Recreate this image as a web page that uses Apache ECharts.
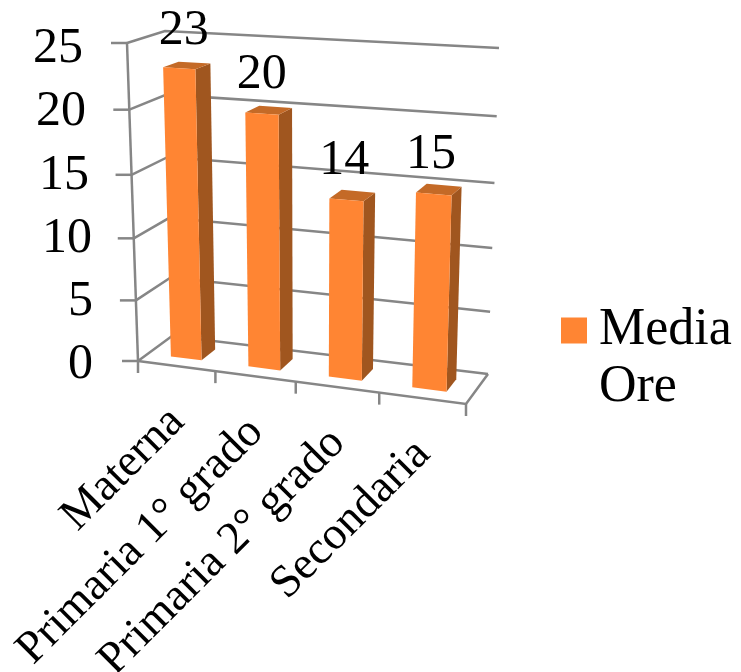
<!DOCTYPE html>
<html><head><meta charset="utf-8">
<style>html,body{margin:0;padding:0;background:#fff}#c{width:741px;height:672px}</style>
<script src="https://cdn.jsdelivr.net/npm/echarts@6/dist/echarts.min.js"></script>
</head><body><div id="c"></div>
<script>
const categories = ['Materna', 'Primaria 1° grado', 'Primaria 2° grado', 'Secondaria'];
const mediaOre = [23, 20, 14, 15];
const yTicks = [0, 5, 10, 15, 20, 25];
const seriesName = 'Media Ore';

// Scene layout: screen corners of the two planes of the 3D box [u,v] = (0,0),(1,0),(1,1),(0,1)
const FRONT = [[138,361],[466,404],[476,62],[127,43]];
const BACK  = [[172,336],[488,374],[499,48],[165,31]];
const GRID = {left:95, top:49, width:400, height:316};
const BAR_HALF = 0.2, D0 = 0.3, D1 = 0.72;
const FONT = 'Liberation Serif';
const LINE = '#868686';
const C_FRONT = '#FF8533', C_SIDE = '#A0561F', C_TOP = '#C46A27';
const VALUE_LABEL_SHIFT = [-3,-7,-8,-8];

function homography(q){
  const [x0,y0]=q[0],[x1,y1]=q[1],[x2,y2]=q[2],[x3,y3]=q[3];
  const dx1=x1-x2,dx2=x3-x2,sx=x0-x1+x2-x3,dy1=y1-y2,dy2=y3-y2,sy=y0-y1+y2-y3;
  const den=dx1*dy2-dx2*dy1;
  const g=(sx*dy2-dx2*sy)/den,h=(dx1*sy-sx*dy1)/den;
  const a=x1-x0+g*x1,b=x3-x0+h*x3,d=y1-y0+g*y1,e=y3-y0+h*y3;
  return (u,v)=>{const w=g*u+h*v+1;return [(a*u+b*v+x0)/w,(d*u+e*v+y0)/w];};
}
const HF=homography(FRONT),HB=homography(BACK);
function P(u,v,d){const f=HF(u,v),b=HB(u,v);return [f[0]+(b[0]-f[0])*d,f[1]+(b[1]-f[1])*d];}
function norm(params,pt){const c=params.coordSys;return [(pt[0]-c.x)/c.width,1-(pt[1]-c.y)/c.height];}
const LW=2.5;
function line(a,b){return {type:'line',shape:{x1:a[0],y1:a[1],x2:b[0],y2:b[1]},style:{stroke:LINE,lineWidth:LW,fill:null}};}

function renderWalls(params,api){
  const v=norm(params,api.coord([0,api.value(1)]))[1];
  const a=P(0,v,0),b=P(0,v,1),c=P(1,v,1);
  const kids=[
    {type:'polyline',shape:{points:[a,b,c]},style:{stroke:LINE,lineWidth:LW,fill:null}},
    line([a[0]-16,a[1]],a)
  ];
  if(params.dataIndex===0){
    kids.push(line(P(0,0,0),P(0,1,0)));
    kids.push({type:'polyline',shape:{points:[P(0,0,0),P(1,0,0),P(1,0,1)]},style:{stroke:LINE,lineWidth:LW,fill:null}});
    for(let k=0;k<=categories.length;k++){
      const t=P(k/categories.length,0,0);
      kids.push(line(t,[t[0],t[1]+12]));
    }
  }
  return {type:'group',children:kids};
}
function renderBars(params,api){
  const i=api.value(0);
  const top=norm(params,api.coord([i,api.value(1)]));
  const base=norm(params,api.coord([i,0]));
  const hw=api.size([1,0])[0]*BAR_HALF/params.coordSys.width;
  const ul=top[0]-hw,ur=top[0]+hw,vt=top[1],vb=base[1];
  const poly=(pts,fill)=>({type:'polygon',shape:{points:pts},style:{fill:fill,stroke:null}});
  const c=P(top[0],vt,(D0+D1)/2);
  const axisPt=P(top[0],0,0);
  return {type:'group',children:[
    poly([P(ur,vb,D0),P(ur,vb,D1),P(ur,vt,D1),P(ur,vt,D0)],C_SIDE),
    poly([P(ul,vt,D0),P(ur,vt,D0),P(ur,vt,D1),P(ul,vt,D1)],C_TOP),
    poly([P(ul,vb,D0),P(ur,vb,D0),P(ur,vt,D0),P(ul,vt,D0)],C_FRONT),
    {type:'text',x:c[0]+VALUE_LABEL_SHIFT[i],y:c[1]-35,style:{text:String(api.value(1)),fontFamily:FONT,fontSize:50,fill:'#000',align:'center',verticalAlign:'middle'}},
    {type:'text',x:axisPt[0]+1,y:axisPt[1]+49,rotation:Math.PI/4,style:{text:categories[i],fontFamily:FONT,fontSize:46,fill:'#000',align:'right',verticalAlign:'middle'}}
  ]};
}
const labelInset={0:2,5:2,10:3,15:6,20:9,25:12};
const rich={};
yTicks.forEach(t=>{rich['t'+t]={fontFamily:FONT,fontSize:50,color:'#000',padding:[0,labelInset[t],0,0]};});

const chart=echarts.init(document.getElementById('c'),null,{renderer:'canvas'});
chart.setOption({
  animation:false,
  backgroundColor:'#fff',
  grid:GRID,
  xAxis:{type:'category',data:categories,show:false},
  yAxis:{type:'value',min:0,max:25,interval:5,
    axisLine:{show:false},axisTick:{show:false},splitLine:{show:false},
    axisLabel:{margin:0,formatter:v=>'{t'+v+'|'+v+'}',rich:rich}},
  legend:{show:true,data:[seriesName],left:561,top:241,padding:0,orient:'vertical',itemWidth:26,itemHeight:26,itemGap:0,
    icon:'rect',formatter:n=>' \n'+n.replace(' ','\n'),
    textStyle:{fontFamily:FONT,fontSize:52,lineHeight:57,color:'#000',padding:[8,0,0,7]}},
  series:[
    {type:'custom',name:'walls',silent:true,z:1,renderItem:renderWalls,data:yTicks.map(t=>[0,t]),encode:{x:0,y:1}},
    {type:'custom',name:seriesName,z:2,renderItem:renderBars,itemStyle:{color:C_FRONT},
     data:mediaOre.map((v,i)=>[i,v]),encode:{x:0,y:1}}
  ]
});
</script></body></html>
